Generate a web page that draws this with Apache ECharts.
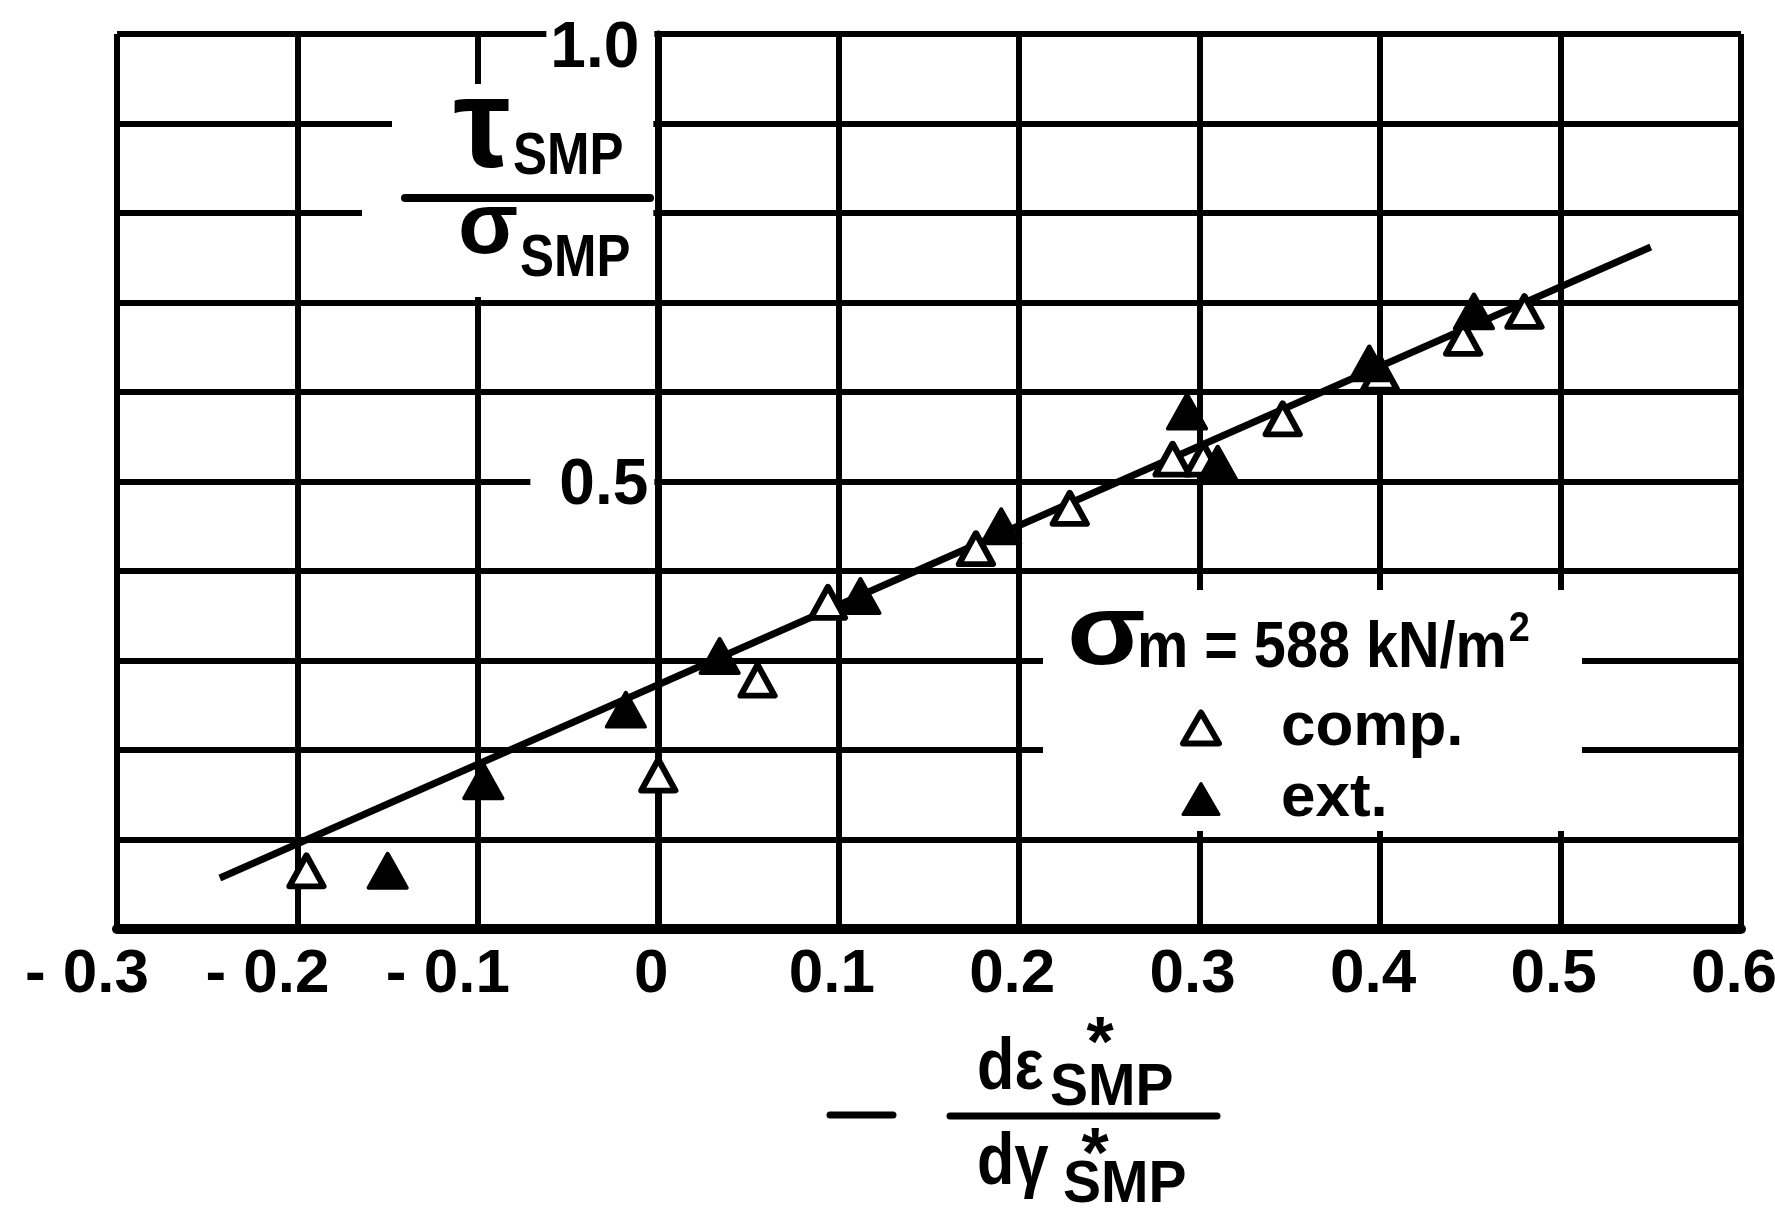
<!DOCTYPE html>
<html>
<head>
<meta charset="utf-8">
<script src="https://cdn.jsdelivr.net/npm/echarts@6/dist/echarts.min.js"></script>
<style>
  html, body { margin: 0; padding: 0; background: #fff; }
  #chart { width: 1775px; height: 1210px; }
</style>
</head>
<body>
<div id="chart"></div>
<script>
// Tick labels along the horizontal axis, from -0.3 to 0.6
const xTickLabels = ['- 0.3', '- 0.2', '- 0.1', '0', '0.1', '0.2', '0.3', '0.4', '0.5', '0.6'];
// Only two values are labelled on the vertical axis
const yTickValues = [0.5, 1.0];
const yTickLabels = ['0.5', '1.0'];

// compression tests (open triangles)
const compX = [-0.195, 0.000, 0.055, 0.094, 0.176, 0.228, 0.285, 0.302, 0.346, 0.400, 0.446, 0.480];
const compY = [ 0.065, 0.172, 0.278, 0.365, 0.425, 0.470, 0.525, 0.525, 0.570, 0.620, 0.660, 0.690];

// extension tests (filled triangles)
const extX = [-0.150, -0.097, -0.018, 0.034, 0.112, 0.190, 0.293, 0.310, 0.394, 0.452];
const extY = [ 0.065,  0.165,  0.245, 0.305, 0.372, 0.450, 0.578, 0.520, 0.632, 0.690];

// straight fitted line through both sets
const fitX = [-0.243, 0.550];
const fitY = [ 0.057, 0.762];

const FONT = "'Liberation Sans', Arial, sans-serif";

const GRID = { left: 117, right: 34, top: 34, bottom: 281 };
const plotW = 1775 - GRID.left - GRID.right;
const xMin = -0.3, xMax = 0.6;
// pixel column of the x = 0 line; the vertical axis is drawn there
const zeroX = GRID.left + (0 - xMin) / (xMax - xMin) * plotW;

const pairs = (xs, ys) => xs.map((x, i) => [x, ys[i]]);

const measure = (() => {
  const ctx = document.createElement('canvas').getContext('2d');
  return (text, font) => { ctx.font = font; return ctx.measureText(text).width; };
})();

// text drawn with a horizontal squeeze to mimic the narrow lettering
function txt(text, x, y, size, align, sx) {
  return {
    type: 'text', z: 6, silent: true,
    x, y, scaleX: sx || 1, scaleY: 1,
    style: {
      text, x: 0, y: 0,
      font: 'bold ' + size + 'px ' + FONT,
      fill: '#000',
      textAlign: align || 'left',
      textVerticalAlign: 'middle'
    }
  };
}
function bar(x1, x2, y, w) {
  return {
    type: 'line', z: 6, silent: true,
    shape: { x1, y1: y, x2, y2: y },
    style: { stroke: '#000', lineWidth: w, lineCap: 'round' }
  };
}
function patch(x, y, width, height) {
  return { type: 'rect', z: 1, silent: true, shape: { x, y, width, height }, style: { fill: '#fff' } };
}

// stress level note: "σm = 588 kN/m²"
const noteSize = 64, noteSX = 0.9;
const noteText = 'm = 588 kN/m';
const noteLeft = 1137;
const noteRight = noteLeft + measure(noteText, 'bold ' + noteSize + 'px ' + FONT) * noteSX;

const chart = echarts.init(document.getElementById('chart'), null, { renderer: 'canvas' });

const labelRich = (pad, extra) => Object.assign({
  fontFamily: FONT, fontWeight: 'bold', fontSize: 62, color: '#000', padding: pad
}, extra || {});

const option = {
  animation: false,
  backgroundColor: '#fff',
  grid: Object.assign({ show: false, outerBoundsMode: 'none', containLabel: false }, GRID),
  xAxis: {
    type: 'value', min: xMin, max: xMax, interval: 0.1,
    axisLine: { show: true, onZero: false, lineStyle: { color: '#000', width: 10 } },
    axisTick: { show: false },
    splitLine: { show: true, lineStyle: { color: '#000', width: 6 } },
    axisLabel: {
      margin: 15,
      formatter: v => {
        const s = xTickLabels[Math.round((v - xMin) * 10)];
        return v < -1e-9 ? '{n|' + s + '}' : '{p|' + s + '}';
      },
      rich: {
        n: labelRich([0, 60, 0, 0]),
        p: labelRich([0, 14, 0, 0])
      }
    }
  },
  yAxis: {
    type: 'value', min: 0, max: 1, interval: 0.1,
    position: 'left',
    offset: -(zeroX - GRID.left),
    axisLine: { show: true, onZero: false, lineStyle: { color: '#000', width: 7 } },
    axisTick: { show: false },
    splitLine: { show: true, lineStyle: { color: '#000', width: 6 } },
    axisLabel: {
      margin: 4,
      formatter: v => {
        const i = yTickValues.findIndex(t => Math.abs(t - v) < 1e-9);
        if (i < 0) return '';
        return (i === yTickValues.length - 1 ? '{t|' : '{h|') + yTickLabels[i] + '}';
      },
      rich: {
        t: labelRich([30, 15, 0, 4], { fontSize: 64, lineHeight: 64, backgroundColor: '#fff' }),
        h: labelRich([10, 6, 0, 29], { fontSize: 64, lineHeight: 64, backgroundColor: '#fff' })
      }
    }
  },
  legend: {
    z: 10,
    data: [
      { name: 'comp.', icon: 'triangle', itemStyle: { color: '#fff', borderColor: '#000', borderWidth: 6 } },
      { name: 'ext.', icon: 'triangle', itemStyle: { color: '#000', borderColor: '#000', borderWidth: 3 } }
    ],
    orient: 'vertical', left: 1180, top: 697, padding: 0,
    itemWidth: 36, itemHeight: 31, itemGap: 9,
    selectedMode: false,
    textStyle: { fontFamily: FONT, fontWeight: 'bold', fontSize: 62, lineHeight: 46, color: '#000', padding: [0, 0, 0, 57] }
  },
  series: [
    {
      name: 'fit', type: 'line', data: pairs(fitX, fitY),
      symbol: 'none', silent: true, z: 3,
      lineStyle: { color: '#000', width: 7 }
    },
    {
      name: 'comp.', type: 'scatter', data: pairs(compX, compY), z: 4,
      symbol: 'triangle', symbolSize: [34, 31],
      itemStyle: { color: '#fff', borderColor: '#000', borderWidth: 6, borderJoin: 'round', opacity: 1 }
    },
    {
      name: 'ext.', type: 'scatter', data: pairs(extX, extY), z: 5,
      symbol: 'triangle', symbolSize: [38, 34],
      itemStyle: { color: '#000', borderColor: '#000', borderWidth: 4, borderJoin: 'round', opacity: 1 }
    }
  ],
  graphic: [
    // blank areas behind the axis title and the note block
    patch(392, 84, zeroX - 5 - 392, 213),
    patch(362, 180, 40, 68),
    patch(1043, 590, 539, 241),

    // vertical axis title: τ_SMP / σ_SMP
    txt('τ', 482, 132, 128, 'center'),
    txt('SMP', 513, 157, 60, 'left', 0.85),
    bar(405, 650, 198, 8),
    txt('σ', 488, 229, 88, 'center'),
    txt('SMP', 520, 259, 60, 'left', 0.85),

    // horizontal axis title: - dε*_SMP / dγ*_SMP
    bar(830, 893, 1115, 7),
    bar(950, 1217, 1116, 7),
    txt('dε', 977, 1069, 72, 'left', 0.85),
    txt('*', 1100, 1047, 70, 'center'),
    txt('SMP', 1050, 1088, 60, 'left', 0.95),
    txt('dγ', 977, 1164, 72, 'left', 0.85),
    txt('*', 1095, 1158, 70, 'center'),
    txt('SMP', 1063, 1185, 60, 'left', 0.95),

    // note on the mean stress level
    txt('σ', 1067, 636, 100, 'left', 1.15),
    txt(noteText, noteLeft, 649, noteSize, 'left', noteSX),
    txt('2', noteRight + 2, 629, 42, 'left', 0.9)
  ]
};

chart.setOption(option);
</script>
</body>
</html>
